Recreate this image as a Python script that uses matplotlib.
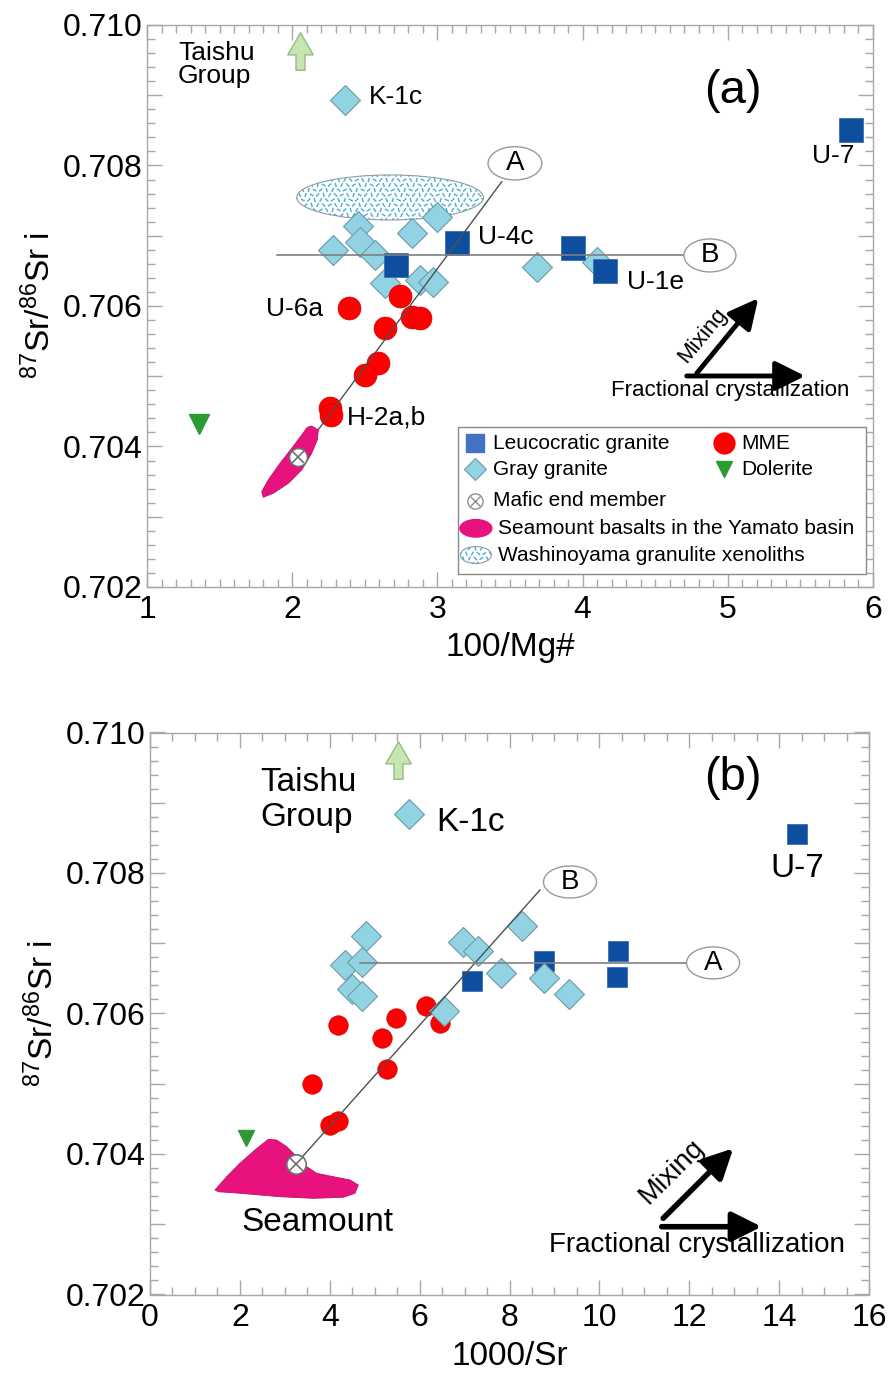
import numpy as np
import matplotlib
matplotlib.use('Agg')
import matplotlib.pyplot as plt
from matplotlib.patches import Ellipse, Polygon, Rectangle
from matplotlib.collections import LineCollection
from matplotlib.path import Path
from matplotlib.ticker import MultipleLocator, FuncFormatter

plt.rcParams['font.family'] = ['Liberation Sans', 'DejaVu Sans']
plt.rcParams['mathtext.fontset'] = 'custom'
plt.rcParams['mathtext.rm'] = 'Liberation Sans'
plt.rcParams['mathtext.it'] = 'Liberation Sans:italic'

# ---------------- (a) 100/Mg# vs (87Sr/86Sr)i ----------------
leuco_a_x = [5.85, 3.133, 2.715, 3.936, 4.154]
leuco_a_y = [0.70851, 0.70690, 0.706584, 0.706821, 0.706503]
gray_a_x = [2.364, 2.455, 2.467, 2.283, 2.570, 2.639, 2.823, 2.995, 2.880, 2.972, 3.684, 4.097]
gray_a_y = [0.708932, 0.707139, 0.706915, 0.706797, 0.706726, 0.706323,
            0.707035, 0.707271, 0.706370, 0.706346, 0.706560, 0.706631]
mme_a_x = [2.393, 2.742, 2.823, 2.880, 2.639, 2.593, 2.501, 2.260, 2.265]
mme_a_y = [0.705967, 0.706142, 0.705848, 0.705825, 0.705683, 0.705184, 0.705018, 0.704544, 0.704448]
dolerite_a = (1.358, 0.70432)
mafic_a = (2.042, 0.703855)
taishu_a = (2.054, 0.709623)
trend_a_end = (3.443, 0.707769)       # line towards "A"
flat_a = (1.895, 4.705, 0.70672)      # horizontal line towards "B"
washino_a = (2.674, 0.707545, 1.286, 0.000641)
seamount_a_x = [2.134, 2.180, 2.173, 2.134, 2.065, 1.973, 1.870, 1.801, 1.790,
                1.835, 1.916, 1.997, 2.065, 2.104]
seamount_a_y = [0.704292, 0.704235, 0.704093, 0.703903, 0.703666, 0.703476, 0.703334,
                0.703277, 0.703357, 0.703523, 0.703761, 0.703974, 0.704164, 0.704273]

# ---------------- (b) 1000/Sr vs (87Sr/86Sr)i ----------------
leuco_b_x = [7.172, 8.767, 10.42, 10.385, 14.40]
leuco_b_y = [0.706467, 0.706752, 0.706894, 0.706524, 0.70855]
gray_b_x = [5.770, 4.806, 4.339, 4.711, 4.488, 4.711, 6.972, 7.305, 8.271, 7.811, 8.767, 9.330, 6.549]
gray_b_y = [0.708840, 0.707103, 0.706690, 0.706737, 0.706345, 0.706249, 0.707022,
            0.706894, 0.707246, 0.706572, 0.706501, 0.706278, 0.706040]
mme_b_x = [6.141, 6.453, 5.474, 4.177, 5.156, 5.280, 3.598, 4.005, 4.190]
mme_b_y = [0.706107, 0.705861, 0.705932, 0.705836, 0.705647, 0.705203, 0.704992, 0.704413, 0.704474]
dolerite_b = (2.136, 0.704224)
mafic_b = (3.242, 0.703853)
taishu_b = (5.52, 0.709609)
trend_b_end = (8.678, 0.707758)
flat_b = (4.673, 11.97, 0.70672)
seamount_b_x = [1.446, 1.707, 2.003, 2.336, 2.632, 2.819, 3.042, 3.264, 3.487, 3.709,
                4.079, 4.450, 4.635, 4.562, 4.301, 3.634, 2.893, 2.003, 1.520]
seamount_b_y = [0.703488, 0.703677, 0.703868, 0.704057, 0.704209, 0.704199, 0.704104,
                0.703962, 0.703819, 0.703725, 0.703677, 0.703630, 0.703559, 0.703441,
                0.703384, 0.703369, 0.703392, 0.703441, 0.703463]

LEUCO = '#0d4f9e'
GRAY = '#92d3e3'
GRAY_EDGE = '#6c9aa8'
MME = '#ff0000'
DOL = '#2e9a32'
PINK = '#e8127f'
AXC = '#a8a8a8'

# up-pointing block arrow used for the off-scale Taishu Group
ARROW = Path([(-0.12, -0.5), (0.12, -0.5), (0.12, -0.09), (0.34, -0.09), (0, 0.5),
              (-0.34, -0.09), (-0.12, -0.09), (-0.12, -0.5)], closed=True)


def dash_fill(ax, cx, cy, w, h, sx, sy, transform, zorder):
    # ellipse filled with short scattered dashes; w, h in pixels, sx, sy pixels per unit
    ell = Ellipse((cx, cy), w / sx, h / sy, transform=transform, facecolor='white',
                  edgecolor='#9a9a9a', lw=0.8, zorder=zorder)
    ax.add_patch(ell)
    angles = [60, 120, 45, 135, 75, 105, 30, 150]
    segs = []
    stx, sty = 6.0, 5.0
    for j in range(int(h / sty) + 2):
        for i in range(int(w / stx) + 2):
            px = -w / 2 + i * stx + (stx / 2 if j % 2 else 0)
            py = -h / 2 + j * sty
            a = np.deg2rad(angles[(i * 3 + j * 5) % len(angles)])
            dx, dy = 2.2 * np.cos(a), 2.2 * np.sin(a)
            segs.append([(cx + (px - dx) / sx, cy + (py - dy) / sy),
                         (cx + (px + dx) / sx, cy + (py + dy) / sy)])
    lc = LineCollection(segs, colors='#48aed3', linewidths=1.0, transform=transform,
                        zorder=zorder + 0.1)
    ax.add_collection(lc, autolim=False)
    lc.set_clip_path(ell)


def style_axes(ax, xmaj, xmin):
    ax.set_ylim(0.702, 0.710)
    ax.yaxis.set_major_locator(MultipleLocator(0.001))
    ax.yaxis.set_minor_locator(MultipleLocator(0.0002))
    ax.yaxis.set_major_formatter(FuncFormatter(
        lambda v, p: f'{v:.3f}' if round(v * 1000) % 2 == 0 else ''))
    ax.xaxis.set_major_locator(MultipleLocator(xmaj))
    ax.xaxis.set_minor_locator(MultipleLocator(xmin))
    ax.tick_params(which='both', direction='in', top=True, right=True, color=AXC, width=1,
                   labelsize=23)
    ax.tick_params(which='major', length=11)
    ax.tick_params(which='minor', length=6)
    ax.tick_params(axis='y', pad=3)
    ax.tick_params(axis='x', pad=6)
    for s in ax.spines.values():
        s.set_color(AXC)
        s.set_linewidth(1)
    ax.set_ylabel(r'$^{87}\mathrm{Sr}/^{86}\mathrm{Sr\ i}$', fontsize=24, labelpad=4)


def tag(ax, x, y, w, h, s):
    ax.add_patch(Ellipse((x, y), w, h, facecolor='white', edgecolor='#9a9a9a', lw=1, zorder=5))
    ax.text(x, y, s, fontsize=20, ha='center', va='center', zorder=6)


def arrows(ax, h0, h1, d0, d1, lw):
    kw = dict(arrowstyle='-|>,head_length=0.9,head_width=0.45', lw=lw, color='k',
              shrinkA=0, shrinkB=0, mutation_scale=20)
    ax.annotate('', xy=h1, xytext=h0, arrowprops=kw, zorder=6)
    ax.annotate('', xy=d1, xytext=d0, arrowprops=kw, zorder=6)


def mafic(ax, x, y, ms, tr=None):
    kw = {} if tr is None else {'transform': tr}
    ax.plot(x, y, 'o', ms=ms, mfc='white', mec='#707070', mew=1.2, zorder=7, **kw)
    ax.plot(x, y, 'x', ms=ms / 1.414, mec='#707070', mew=1.2, zorder=7.1, **kw)


fig = plt.figure(figsize=(8.88, 13.89), dpi=100)
H = 1389.0
ax1 = fig.add_axes([147 / 888, 1 - 587 / H, 726 / 888, 562 / H])
ax2 = fig.add_axes([150 / 888, 1 - 1294.5 / H, 719 / 888, 562 / H])

# ---------------- panel (a) ----------------
ax = ax1
ax.set_xlim(1, 6)
style_axes(ax, 1, 0.1)
ax.set_xlabel('100/Mg#', fontsize=24, labelpad=5)

dash_fill(ax, washino_a[0], washino_a[1], washino_a[2] * 145.2, washino_a[3] / 1.4235e-5,
          145.2, 1 / 1.4235e-5, ax.transData, 1)
ax.plot(gray_a_x, gray_a_y, 'D', ms=15.3, mfc=GRAY, mec=GRAY_EDGE, mew=0.8, zorder=2)
ax.plot(leuco_a_x, leuco_a_y, 's', ms=17, mfc=LEUCO, mec='#3d6fb0', mew=0.6, zorder=3)
ax.plot(mme_a_x, mme_a_y, 'o', ms=16.5, mfc=MME, mec='#d00000', mew=0.5, zorder=3)
ax.plot(*dolerite_a, 'v', ms=14, mfc=DOL, mec=DOL, zorder=3)
ax.plot(*taishu_a, marker=ARROW, ms=27, mfc='#c6e5b0', mec='#98bb84', mew=1, zorder=3)

ax.plot([mafic_a[0], trend_a_end[0]], [mafic_a[1], trend_a_end[1]], color='#505050', lw=1, zorder=4)
ax.plot([flat_a[0], flat_a[1]], [flat_a[2], flat_a[2]], color='#808080', lw=1.2, zorder=4)
ax.add_patch(Polygon(np.column_stack([seamount_a_x, seamount_a_y]), closed=True,
                     facecolor=PINK, edgecolor='#c0106a', lw=0.6, joinstyle='round', zorder=5))
mafic(ax, *mafic_a, ms=13)
tag(ax, 3.534, 0.708031, 0.370, 0.000474, 'A')
tag(ax, 4.877, flat_a[2], 0.358, 0.000470, 'B')

ax.text(1.213, 0.709438, 'Taishu\nGroup', fontsize=19, ha='left', va='center', linespacing=0.9)
ax.text(2.529, 0.708975, 'K-1c', fontsize=19, ha='left', va='center')
ax.text(5.036, 0.709061, '(a)', fontsize=34, ha='center', va='center')
ax.text(5.724, 0.708135, 'U-7', fontsize=19, ha='center', va='center')
ax.text(3.280, 0.706982, 'U-4c', fontsize=19, ha='left', va='center')
ax.text(4.304, 0.706342, 'U-1e', fontsize=19, ha='left', va='center')
ax.text(2.212, 0.705964, 'U-6a', fontsize=19, ha='right', va='center')
ax.text(2.377, 0.704406, 'H-2a,b', fontsize=19, ha='left', va='center')

arrows(ax, (4.717, 0.705004), (5.532, 0.705004), (4.786, 0.705042), (5.210, 0.706110), 3.5)
ax.text(4.829, 0.705587, 'Mixing', fontsize=16, rotation=50.6, ha='center', va='center')
ax.text(5.015, 0.704804, 'Fractional crystallization', fontsize=16, ha='center', va='center')

# legend box drawn in axes coordinates
T = ax.transAxes
ax.add_patch(Rectangle((0.428, 0.023), 0.562, 0.262, transform=T, facecolor='white',
                       edgecolor='#8a8a8a', lw=1, zorder=8))
rows = [0.2557, 0.2094, 0.1536, 0.1044, 0.0569]
lfs = 15
ax.plot(0.4518, rows[0], 's', ms=13, mfc='#4472c4', mec='#4472c4', transform=T, zorder=9)
ax.text(0.4762, rows[0], 'Leucocratic granite', fontsize=lfs, va='center', transform=T, zorder=9)
ax.plot(0.7948, rows[0], 'o', ms=15, mfc=MME, mec=MME, transform=T, zorder=9)
ax.text(0.8191, rows[0], 'MME', fontsize=lfs, va='center', transform=T, zorder=9)
ax.plot(0.4518, rows[1], 'D', ms=11, mfc=GRAY, mec=GRAY_EDGE, mew=0.8, transform=T, zorder=9)
ax.text(0.4762, rows[1], 'Gray granite', fontsize=lfs, va='center', transform=T, zorder=9)
ax.plot(0.7948, rows[1], 'v', ms=12, mfc=DOL, mec=DOL, transform=T, zorder=9)
ax.text(0.8191, rows[1], 'Dolerite', fontsize=lfs, va='center', transform=T, zorder=9)
ax.plot(0.4512, rows[2], 'o', ms=11, mfc='white', mec='#909090', mew=1, transform=T, zorder=9)
ax.plot(0.4512, rows[2], 'x', ms=7.8, mec='#909090', mew=1, transform=T, zorder=9.1)
ax.text(0.4762, rows[2], 'Mafic end member', fontsize=lfs, va='center', transform=T, zorder=9)
ax.add_patch(Ellipse((0.453, rows[3]), 0.044, 0.031, transform=T, facecolor=PINK,
                     edgecolor=PINK, zorder=9))
ax.text(0.4839, rows[3], 'Seamount basalts in the Yamato basin', fontsize=lfs, va='center',
        transform=T, zorder=9)
dash_fill(ax, 0.453, rows[4], 31, 17, 726, 562, T, 9)
ax.text(0.4839, rows[4], 'Washinoyama granulite xenoliths', fontsize=lfs, va='center',
        transform=T, zorder=9)

# ---------------- panel (b) ----------------
ax = ax2
ax.set_xlim(0, 16)
style_axes(ax, 2, 0.5)
ax.set_xlabel('1000/Sr', fontsize=24, labelpad=6)

ax.plot(mme_b_x, mme_b_y, 'o', ms=14, mfc=MME, mec='#d00000', mew=0.5, zorder=2)
ax.plot(leuco_b_x, leuco_b_y, 's', ms=14, mfc=LEUCO, mec='#3d6fb0', mew=0.6, zorder=2.5)
ax.plot(gray_b_x, gray_b_y, 'D', ms=15.5, mfc=GRAY, mec=GRAY_EDGE, mew=0.8, zorder=3)
ax.plot(*dolerite_b, 'v', ms=12, mfc=DOL, mec=DOL, zorder=3)
ax.plot(*taishu_b, marker=ARROW, ms=27, mfc='#c6e5b0', mec='#98bb84', mew=1, zorder=3)

ax.plot([mafic_b[0], trend_b_end[0]], [mafic_b[1], trend_b_end[1]], color='#505050', lw=1, zorder=4)
ax.plot([flat_b[0], flat_b[1]], [flat_b[2], flat_b[2]], color='#808080', lw=1.2, zorder=4)
ax.add_patch(Polygon(np.column_stack([seamount_b_x, seamount_b_y]), closed=True,
                     facecolor=PINK, edgecolor='#c0106a', lw=0.6, joinstyle='round', zorder=5))
mafic(ax, *mafic_b, ms=14)
tag(ax, 9.346, 0.707872, 1.18, 0.000456, 'B')
tag(ax, 12.53, flat_b[2], 1.18, 0.000456, 'A')

ax.text(2.448, 0.70904, 'Taishu\nGroup', fontsize=24, ha='left', va='center', linespacing=1.15)
ax.text(6.38, 0.708719, 'K-1c', fontsize=24, ha='left', va='center')
ax.text(12.97, 0.709352, '(b)', fontsize=34, ha='center', va='center')
ax.text(14.4, 0.708071, 'U-7', fontsize=24, ha='center', va='center')
ax.text(3.727, 0.703025, 'Seamount', fontsize=24, ha='center', va='center')

arrows(ax, (11.386, 0.702965), (13.61, 0.702965), (11.42, 0.703085), (12.98, 0.704081), 4)
ax.text(11.609, 0.703748, 'Mixing', fontsize=20, rotation=45, ha='center', va='center')
ax.text(12.165, 0.702705, 'Fractional crystallization', fontsize=20, ha='center', va='center')

fig.savefig('out.png', dpi=100)
